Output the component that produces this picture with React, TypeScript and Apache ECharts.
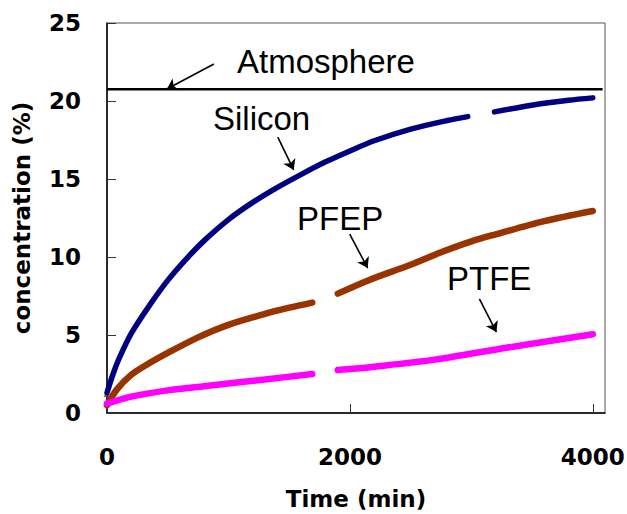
import React, { useEffect, useRef } from "react";
import * as echarts from "echarts";

// ---- data ----
const siliconTime = [0, 50, 100, 200, 350, 500, 650, 800, 1000, 1200, 1400, 1600, 1800, 2000, 2200, 2500, 2800, 2970, 3080, 3190, 3400, 3600, 3800, 4000];
const siliconValue = [1.3, 2.5, 3.5, 5.1, 6.9, 8.5, 9.85, 11.05, 12.4, 13.5, 14.45, 15.3, 16.1, 16.8, 17.45, 18.2, 18.75, 19.0, null, 19.3, 19.6, 19.85, 20.05, 20.2];

const pfepTime = [0, 80, 200, 350, 500, 750, 1000, 1300, 1500, 1690, 1800, 1900, 2150, 2500, 2750, 3000, 3200, 3600, 4000];
const pfepValue = [0.5, 1.5, 2.45, 3.2, 3.85, 4.85, 5.65, 6.35, 6.75, 7.08, null, 7.65, 8.5, 9.5, 10.3, 11.0, 11.45, 12.3, 12.95];

const ptfeTime = [0, 200, 500, 800, 1300, 1690, 1800, 1900, 2200, 2700, 3300, 4000];
const ptfeValue = [0.6, 1.05, 1.45, 1.72, 2.15, 2.5, null, 2.75, 2.97, 3.42, 4.2, 5.05];

const atmosphereTime = [0, 4080];
const atmosphereValue = [20.75, 20.75];

const firstMarker = [[0, 1.25]];

// annotation arrows: [fromX, fromY, toX, toY] in data units
const arrowAtmosphere = [880, 22.37, 493, 20.77];
const arrowSilicon = [1406, 17.69, 1537, 15.58];
const arrowPFEP = [1998, 11.47, 2146, 9.29];
const arrowPTFE = [3066, 7.31, 3206, 5.19];

const xTicks = { min: 0, max: 4100, interval: 2000 };
const yTicks = { min: 0, max: 25, interval: 5 };

const pairs = (t: number[], v: (number | null)[]) => t.map((x, i) => [x, v[i]]);
const arrow = (a: number[]) => [{ coord: [a[0], a[1]] }, { coord: [a[2], a[3]] }];

const axisFont = { fontFamily: "DejaVu Sans", fontWeight: "bold" as const, fontSize: 23, color: "#000" };
const annoFont = "33px 'Liberation Sans', Arial, sans-serif";

export default function App() {
  const ref = useRef<HTMLDivElement>(null);
  useEffect(() => {
    if (!ref.current) return;
    const chart = echarts.init(ref.current, undefined, { renderer: "svg" });
    const curve = (name: string, data: any[], color: string, width: number) => ({
      name,
      type: "line",
      data,
      showSymbol: false,
      connectNulls: false,
      smooth: 0.3,
      silent: true,
      lineStyle: { color, width, cap: "round" },
    });
    chart.setOption({
      animation: false,
      backgroundColor: "#fff",
      grid: {
        left: 107,
        top: 23,
        right: 22,
        bottom: 101,
        show: true,
        borderColor: "#555",
        borderWidth: 1,
        containLabel: false,
        outerBoundsMode: "none",
      },
      xAxis: {
        type: "value",
        min: xTicks.min,
        max: xTicks.max,
        interval: xTicks.interval,
        name: "Time (min)",
        nameLocation: "middle",
        nameGap: 74,
        nameTextStyle: axisFont,
        axisLine: { lineStyle: { color: "#000", width: 1.5 } },
        axisTick: { inside: true, length: 9, lineStyle: { color: "#333", width: 1 } },
        axisLabel: { ...axisFont, margin: 32, formatter: (v: number) => String(v) },
        splitLine: { show: false },
      },
      yAxis: {
        type: "value",
        min: yTicks.min,
        max: yTicks.max,
        interval: yTicks.interval,
        name: "concentration (%)",
        nameLocation: "middle",
        nameGap: 74,
        nameTextStyle: axisFont,
        axisLine: { show: true, lineStyle: { color: "#000", width: 1.5 } },
        axisTick: { show: true, inside: true, length: 9, lineStyle: { color: "#333", width: 1 } },
        axisLabel: { ...axisFont, margin: 26, formatter: (v: number) => String(v) },
        splitLine: { show: false },
      },
      series: [
        {
          name: "Atmosphere",
          type: "line",
          data: pairs(atmosphereTime, atmosphereValue),
          showSymbol: false,
          silent: true,
          lineStyle: { color: "#000", width: 2.5 },
          markLine: {
            silent: true,
            symbol: ["none", "arrow"],
            symbolSize: 10,
            label: { show: false },
            lineStyle: { color: "#000", width: 1.6, type: "solid" },
            emphasis: { disabled: true },
            data: [arrow(arrowAtmosphere), arrow(arrowSilicon), arrow(arrowPFEP), arrow(arrowPTFE)],
          },
        },
        curve("Silicon", pairs(siliconTime, siliconValue), "#000080", 5.5),
        curve("PFEP", pairs(pfepTime, pfepValue), "#993300", 6.5),
        curve("PTFE", pairs(ptfeTime, ptfeValue), "#FF00FF", 6.5),
        {
          name: "PFEP start",
          type: "scatter",
          data: firstMarker,
          symbol: "triangle",
          symbolSize: 7,
          silent: true,
          itemStyle: { color: "#993300" },
        },
      ],
      graphic: [
        { type: "text", x: 237, y: 61, style: { text: "Atmosphere", font: annoFont, fill: "#000", textAlign: "left", textVerticalAlign: "middle" } },
        { type: "text", x: 213, y: 118, style: { text: "Silicon", font: annoFont, fill: "#000", textAlign: "left", textVerticalAlign: "middle" } },
        { type: "text", x: 297, y: 218, style: { text: "PFEP", font: annoFont, fill: "#000", textAlign: "left", textVerticalAlign: "middle" } },
        { type: "text", x: 447, y: 278, style: { text: "PTFE", font: annoFont, fill: "#000", textAlign: "left", textVerticalAlign: "middle" } },
      ],
    });
    return () => chart.dispose();
  }, []);
  return <div ref={ref} style={{ position: "fixed", left: 0, top: 0, width: 627, height: 514 }} />;
}
